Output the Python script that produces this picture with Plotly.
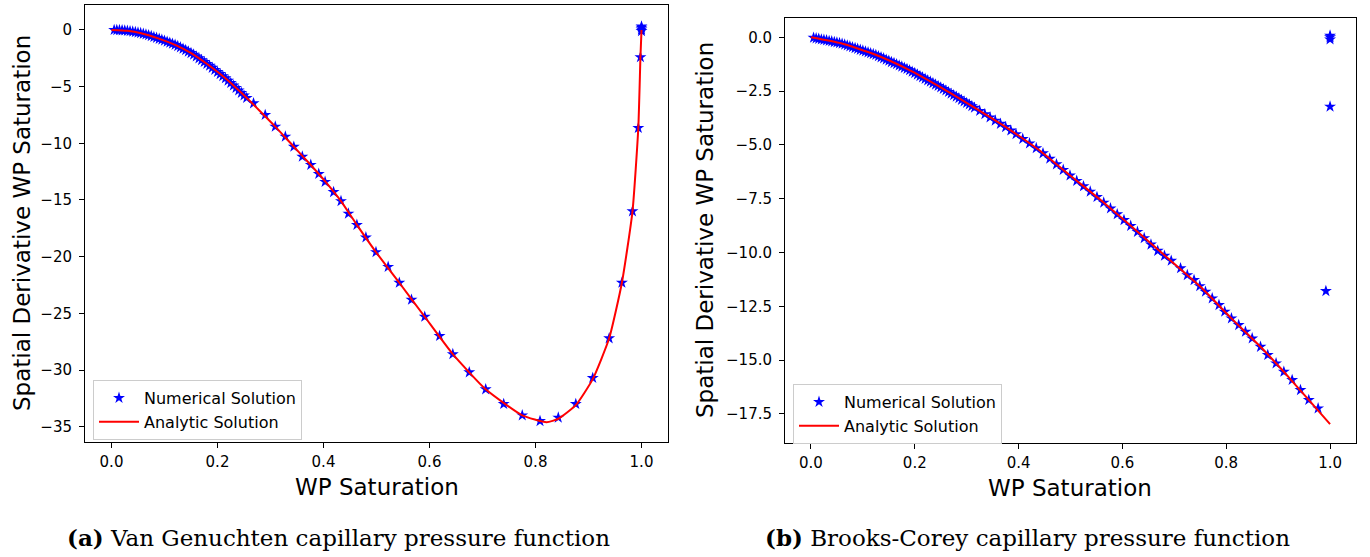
import plotly.graph_objects as go

# ---------------- data: (a) Van Genuchten ----------------
vg_num_x = [0.005, 0.01, 0.015, 0.02, 0.025, 0.03, 0.035, 0.04, 0.045, 0.05,
            0.055, 0.06, 0.065, 0.07, 0.075, 0.08, 0.085, 0.09, 0.095, 0.1,
            0.105, 0.11, 0.115, 0.12, 0.125, 0.13, 0.135, 0.14, 0.145, 0.15,
            0.155, 0.16, 0.165, 0.17, 0.175, 0.18, 0.185, 0.19, 0.195, 0.2,
            0.205, 0.21, 0.215, 0.22, 0.225, 0.23, 0.235, 0.24, 0.245, 0.25,
            0.255, 0.268, 0.290, 0.309, 0.328,
            0.344, 0.360, 0.376, 0.391, 0.403, 0.419, 0.433, 0.447, 0.463, 0.480,
            0.499, 0.522, 0.543, 0.566, 0.591, 0.619, 0.644, 0.675, 0.706, 0.740,
            0.775, 0.8085, 0.843, 0.876, 0.908, 0.939, 0.963, 0.983, 0.994, 0.998,
            1.0, 1.0, 1.0, 1.0]
vg_num_y = [0.0, -0.01, -0.02, -0.03, -0.05, -0.08, -0.11, -0.15, -0.19, -0.24,
            -0.28, -0.34, -0.40, -0.47, -0.54, -0.62, -0.70, -0.78, -0.86, -0.95,
            -1.04, -1.13, -1.22, -1.32, -1.43, -1.54, -1.66, -1.78, -1.91, -2.04,
            -2.18, -2.34, -2.50, -2.66, -2.83, -2.99, -3.16, -3.34, -3.52, -3.71,
            -3.89, -4.07, -4.26, -4.47, -4.68, -4.90, -5.11, -5.33, -5.55, -5.78,
            -6.00, -6.47, -7.50, -8.53, -9.41,
            -10.3, -11.18, -11.9, -12.7, -13.4, -14.3, -15.1, -16.2, -17.2, -18.3,
            -19.6, -20.9, -22.3, -23.8, -25.3, -27.0, -28.6, -30.2, -31.7, -33.0,
            -34.0, -34.5, -34.2, -33.0, -30.7, -27.2, -22.3, -16.0, -8.65, -2.4,
            -0.1, 0.05, 0.2, 0.3]
vg_ana_x = [0.0, 0.03, 0.056, 0.088, 0.12, 0.151, 0.183, 0.215, 0.246, 0.278,
            0.309, 0.341, 0.373, 0.404, 0.433, 0.463, 0.499, 0.543, 0.591, 0.644,
            0.706, 0.775, 0.821, 0.843, 0.876, 0.908, 0.939, 0.963, 0.983, 0.994,
            0.998, 1.0]
vg_ana_y = [0.0, -0.08, -0.29, -0.74, -1.32, -2.06, -3.09, -4.26, -5.59, -7.06,
            -8.53, -10.15, -11.76, -13.4, -15.1, -17.2, -19.6, -22.3, -25.3, -28.6,
            -31.7, -34.0, -34.6, -34.3, -33.1, -30.8, -27.2, -22.3, -16.0, -8.6,
            -2.4, 0.0]

# ---------------- data: (b) Brooks-Corey ----------------
bc_num_x = [0.005, 0.01, 0.015, 0.02, 0.025, 0.03, 0.035, 0.04, 0.045, 0.05,
            0.055, 0.06, 0.065, 0.07, 0.075, 0.08, 0.085, 0.09, 0.095, 0.1,
            0.105, 0.11, 0.115, 0.12, 0.125, 0.13, 0.135, 0.14, 0.145, 0.15,
            0.155, 0.16, 0.165, 0.17, 0.175, 0.18, 0.185, 0.19, 0.195, 0.2,
            0.205, 0.21, 0.215, 0.22, 0.225, 0.23, 0.235, 0.24, 0.245, 0.25,
            0.255, 0.26, 0.265, 0.27, 0.275, 0.28, 0.285, 0.29, 0.295, 0.3,
            0.305, 0.31, 0.315, 0.325, 0.335, 0.345, 0.355, 0.365, 0.375, 0.385,
            0.395, 0.408, 0.421, 0.434, 0.447, 0.460, 0.473, 0.486, 0.499, 0.512,
            0.525, 0.538, 0.551, 0.564, 0.577, 0.590, 0.603, 0.616, 0.629, 0.642,
            0.655, 0.668, 0.681, 0.694, 0.712, 0.725, 0.738, 0.749, 0.760, 0.773,
            0.786, 0.797, 0.810, 0.824, 0.837, 0.850, 0.866, 0.880, 0.896, 0.911,
            0.927, 0.943, 0.959, 0.977, 0.992, 1.0, 1.0, 1.0, 1.0]
bc_num_y = [-0.02, -0.05, -0.07, -0.10, -0.12, -0.14, -0.17, -0.19, -0.22, -0.24,
            -0.27, -0.30, -0.34, -0.38, -0.42, -0.46, -0.50, -0.54, -0.58, -0.62,
            -0.66, -0.70, -0.74, -0.78, -0.82, -0.88, -0.93, -0.98, -1.04, -1.09,
            -1.15, -1.20, -1.25, -1.31, -1.36, -1.42, -1.47, -1.53, -1.60, -1.66,
            -1.73, -1.80, -1.86, -1.93, -2.00, -2.06, -2.13, -2.20, -2.26, -2.33,
            -2.40, -2.47, -2.54, -2.62, -2.69, -2.76, -2.83, -2.91, -2.98, -3.05,
            -3.12, -3.20, -3.27, -3.42, -3.57, -3.72, -3.87, -4.02, -4.17, -4.33,
            -4.50, -4.72, -4.93, -5.15, -5.39, -5.64, -5.90, -6.16, -6.42, -6.67,
            -6.92, -7.17, -7.42, -7.68, -7.95, -8.22, -8.49, -8.76, -9.04, -9.33,
            -9.63, -9.92, -10.15, -10.38, -10.73, -11.05, -11.28, -11.56, -11.82, -12.13,
            -12.44, -12.75, -13.06, -13.37, -13.68, -13.99, -14.38, -14.76, -15.15, -15.54,
            -15.92, -16.39, -16.85, -17.24, -11.79, -3.22, -0.1, 0.0, 0.08]
bc_ana_x = [0.0, 0.058, 0.122, 0.187, 0.251, 0.315, 0.379, 0.44, 0.494, 0.558,
            0.622, 0.687, 0.749, 0.81, 0.866, 0.911, 0.959, 1.0]
bc_ana_y = [0.0, -0.28, -0.79, -1.49, -2.34, -3.27, -4.23, -5.25, -6.32, -7.56,
            -8.88, -10.25, -11.56, -13.06, -14.38, -15.54, -16.85, -17.97]

# ---------------- ticks & text ----------------
x_ticks = [0.0, 0.2, 0.4, 0.6, 0.8, 1.0]
x_ticktext = ["0.0", "0.2", "0.4", "0.6", "0.8", "1.0"]
vg_y_ticks = [0, -5, -10, -15, -20, -25, -30, -35]
vg_y_ticktext = ["0", "\u22125", "\u221210", "\u221215", "\u221220", "\u221225", "\u221230", "\u221235"]
bc_y_ticks = [0.0, -2.5, -5.0, -7.5, -10.0, -12.5, -15.0, -17.5]
bc_y_ticktext = ["0.0", "\u22122.5", "\u22125.0", "\u22127.5", "\u221210.0", "\u221212.5", "\u221215.0", "\u221217.5"]
x_title = "WP Saturation"
y_title = "Spatial Derivative WP Saturation"
num_name = "Numerical Solution"
ana_name = "Analytic Solution"
caption_a = "<b>(a)</b> Van Genuchten capillary pressure function"
caption_b = "<b>(b)</b> Brooks-Corey capillary pressure function"

W, H = 1370, 557
BLUE = "#0000ff"
RED = "#ff0000"
MARKER = dict(symbol="star", size=9, color=BLUE, line=dict(width=0))
LINE = dict(color=RED, width=2, shape="spline", smoothing=0.5)

fig = go.Figure()
fig.add_trace(go.Scatter(x=vg_num_x, y=vg_num_y, mode="markers", marker=MARKER,
                         name=num_name, xaxis="x", yaxis="y", legend="legend"))
fig.add_trace(go.Scatter(x=vg_ana_x, y=vg_ana_y, mode="lines", line=LINE,
                         name=ana_name, xaxis="x", yaxis="y", legend="legend"))
fig.add_trace(go.Scatter(x=bc_num_x, y=bc_num_y, mode="markers", marker=MARKER,
                         name=num_name, xaxis="x2", yaxis="y2", legend="legend2"))
fig.add_trace(go.Scatter(x=bc_ana_x, y=bc_ana_y, mode="lines", line=LINE,
                         name=ana_name, xaxis="x2", yaxis="y2", legend="legend2"))

TICKFONT = dict(family="DejaVu Sans", size=15, color="black")
TITLEFONT = dict(family="DejaVu Sans", size=23, color="black")
common = dict(showline=True, linecolor="black", linewidth=1, mirror=True,
              ticks="outside", ticklen=5, tickwidth=1, tickcolor="black",
              showgrid=False, zeroline=False, tickfont=TICKFONT,
              automargin=False)
xcommon = dict(common, ticklabelstandoff=1)
ycommon = dict(common, ticklabelstandoff=4)


def px_x(p):
    return p / W


def px_y(p):
    return 1 - p / H


legend_common = dict(xanchor="left", yanchor="top", bgcolor="white",
                     bordercolor="#cccccc", borderwidth=1,
                     font=dict(family="DejaVu Sans", size=16, color="black"),
                     tracegroupgap=0, itemwidth=40)


def ann(text, x, y, font, angle=0):
    return dict(text=text, x=px_x(x), y=px_y(y), xref="paper", yref="paper",
                xanchor="center", yanchor="middle", showarrow=False,
                textangle=angle, font=font)


CAPFONT = dict(family="DejaVu Serif", size=23, color="black")

fig.update_layout(
    width=W, height=H,
    margin=dict(l=0, r=0, t=0, b=0),
    paper_bgcolor="white", plot_bgcolor="white",
    xaxis=dict(domain=[px_x(85), px_x(668)], range=[-0.05, 1.05], anchor="y",
               tickvals=x_ticks, ticktext=x_ticktext, **xcommon),
    yaxis=dict(domain=[px_y(442), px_y(5)], range=[-36.35, 2.2], anchor="x",
               tickvals=vg_y_ticks, ticktext=vg_y_ticktext, **ycommon),
    xaxis2=dict(domain=[px_x(785), px_x(1356)], range=[-0.05, 1.05], anchor="y2",
                tickvals=x_ticks, ticktext=x_ticktext, **xcommon),
    yaxis2=dict(domain=[px_y(443), px_y(17.5)], range=[-18.85, 0.92], anchor="x2",
                tickvals=bc_y_ticks, ticktext=bc_y_ticktext, **ycommon),
    legend=dict(x=px_x(93), y=px_y(380), **legend_common),
    legend2=dict(x=px_x(793), y=px_y(384), **legend_common),
    annotations=[
        ann(x_title, 377, 487, TITLEFONT),
        ann(y_title, 22, 223, TITLEFONT, angle=-90),
        ann(x_title, 1070, 488, TITLEFONT),
        ann(y_title, 705, 230, TITLEFONT, angle=-90),
        ann(caption_a, 338, 537, CAPFONT),
        ann(caption_b, 1027, 537, CAPFONT),
    ],
)

fig.write_html("out.html", config={"displayModeBar": False},
               post_script="document.body.style.margin='0';document.body.style.padding='0';")
